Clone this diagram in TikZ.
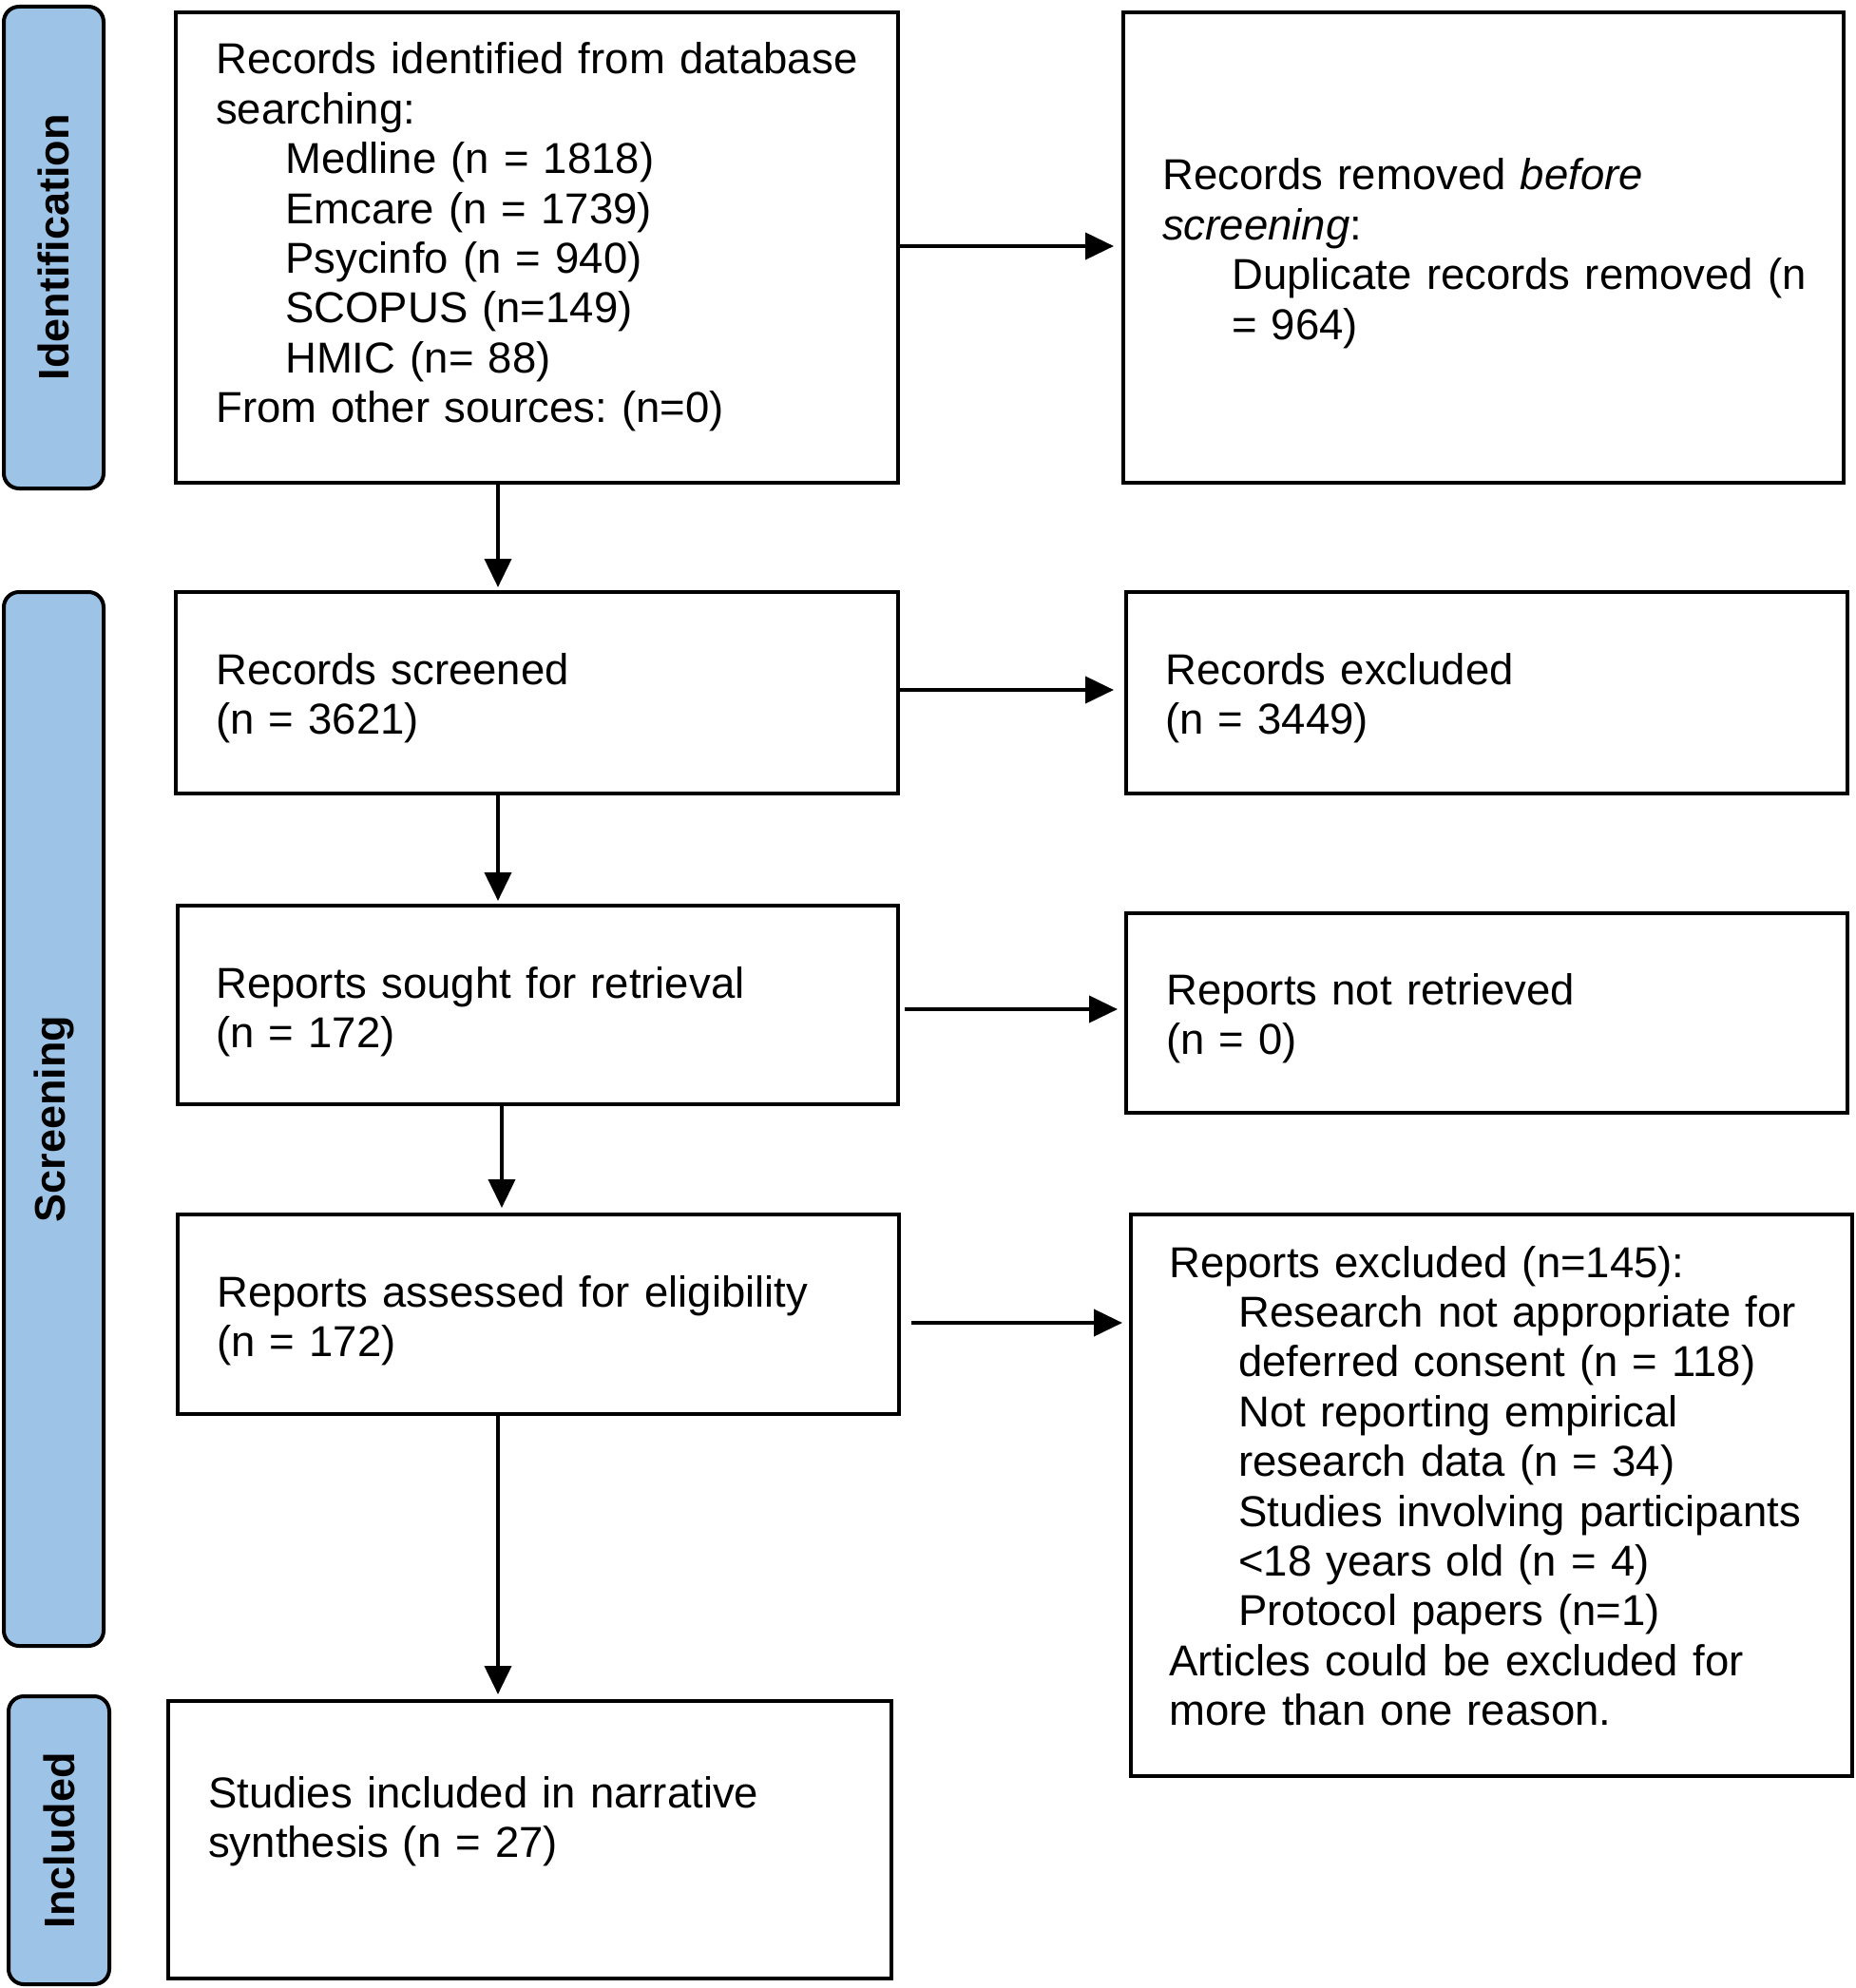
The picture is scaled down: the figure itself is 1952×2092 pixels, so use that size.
\documentclass[tikz,border=0pt]{standalone}
\usepackage{fontspec}
\setmainfont{Liberation Sans}
\usetikzlibrary{arrows.meta}
\definecolor{phase}{RGB}{157,195,230}
\newcommand{\ind}{\hspace*{73pt}}
\frenchspacing
\begin{document}
\begin{tikzpicture}[x=1pt,y=-1pt,
  box/.style={draw, line width=4pt, rectangle, inner sep=0pt},
  phasebox/.style={draw, line width=4pt, fill=phase, rounded corners=16pt, rotate=90, inner sep=0pt, font=\fontsize{45}{52}\selectfont\bfseries},
  txt/.style={anchor=base west, inner sep=0pt, align=left, text width=720pt, font=\fontsize{45.5}{52.4}\selectfont\frenchspacing},
  arr/.style={line width=4pt, -{Triangle[length=30pt,width=28pt]}}]
\useasboundingbox (0,0) rectangle (1952,2092);

% phase labels
\node[phasebox, minimum width=507pt, minimum height=105pt] (pI) at (56.5,260.5) {Identification};
\node[phasebox, minimum width=1109pt, minimum height=105pt] (pS) at (56.5,1177.5) {Screening};
\node[phasebox, minimum width=303pt, minimum height=106pt] (pN) at (62,1936.5) {Included};

% boxes
\node[box, minimum width=760pt, minimum height=495pt] (A) at (565,260.5) {};
\node[box, minimum width=758pt, minimum height=495pt] (B) at (1561,260.5) {};
\node[box, minimum width=760pt, minimum height=212pt] (C) at (565,729) {};
\node[box, minimum width=759pt, minimum height=212pt] (D) at (1564.5,729) {};
\node[box, minimum width=758pt, minimum height=209pt] (E) at (566,1057.5) {};
\node[box, minimum width=759pt, minimum height=210pt] (F) at (1564.5,1066) {};
\node[box, minimum width=759pt, minimum height=210pt] (G) at (566.5,1383) {};
\node[box, minimum width=759pt, minimum height=591pt] (H) at (1569.5,1573.5) {};
\node[box, minimum width=761pt, minimum height=292pt] (I) at (557.5,1936) {};

% texts
\node[txt] (At) at (227,78) {Records identified from database\\
searching:\\
\ind Medline (n = 1818)\\
\ind Emcare (n = 1739)\\
\ind Psycinfo (n = 940)\\
\ind SCOPUS (n=149)\\
\ind HMIC (n= 88)\\
From other sources: (n=0)};
\node[txt] (Bt) at (1223,200) {Records removed \textit{before}\\
\textit{screening}:\\
\ind Duplicate records removed (n\\
\ind = 964)};
\node[txt] (Ct) at (227,720) {Records screened\\(n = 3621)};
\node[txt] (Dt) at (1226,720) {Records excluded\\(n = 3449)};
\node[txt] (Et) at (227,1050) {Reports sought for retrieval\\(n = 172)};
\node[txt] (Ft) at (1227,1057) {Reports not retrieved\\(n = 0)};
\node[txt] (Gt) at (228,1375) {Reports assessed for eligibility\\(n = 172)};
\node[txt] (Ht) at (1230,1344) {Reports excluded (n=145):\\
\ind Research not appropriate for\\
\ind deferred consent (n = 118)\\
\ind Not reporting empirical\\
\ind research data (n = 34)\\
\ind Studies involving participants\\
\ind <18 years old (n = 4)\\
\ind Protocol papers (n=1)\\
Articles could be excluded for\\
more than one reason.};
\node[txt] (It) at (219,1902) {Studies included in narrative\\synthesis (n = 27)};

% helper coordinates
\coordinate (xa) at (524,0);
\coordinate (xb) at (528,0);
\coordinate (yAB) at (0,259);
\coordinate (yCD) at (0,726);
\coordinate (yEF) at (0,1062);
\coordinate (yGH) at (0,1392);

% connectors
\draw[arr, shorten >=8pt] (A.east |- yAB) -- (B.west |- yAB);
\draw[arr, shorten >=11pt] (C.east |- yCD) -- (D.west |- yCD);
\draw[arr, shorten <=5pt, shorten >=7pt] (E.east |- yEF) -- (F.west |- yEF);
\draw[arr, shorten <=11pt, shorten >=7pt] (G.east |- yGH) -- (H.west |- yGH);
\draw[arr, shorten >=3pt] (A.south -| xa) -- (C.north -| xa);
\draw[arr, shorten >=3pt] (C.south -| xa) -- (E.north -| xa);
\draw[arr, shorten >=5pt] (E.south -| xb) -- (G.north -| xb);
\draw[arr, shorten >=5pt] (G.south -| xa) -- (I.north -| xa);
\end{tikzpicture}
\end{document}
